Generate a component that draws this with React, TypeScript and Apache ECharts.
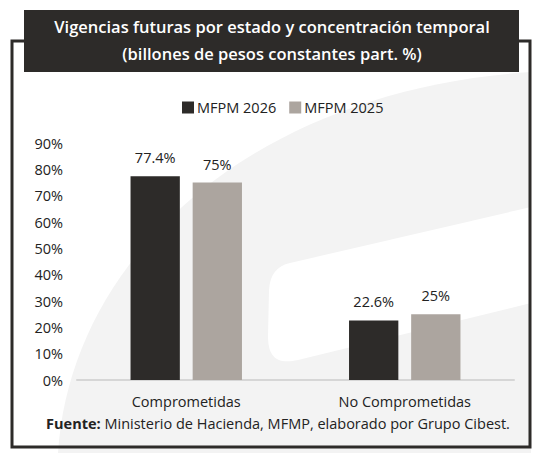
import React, { useEffect, useRef } from "react";
import * as echarts from "echarts";

const categories = ["Comprometidas", "No Comprometidas"];
const seriesNames = ["MFPM 2026", "MFPM 2025"];
const mfpm2026 = [77.4, 22.6];
const mfpm2025 = [75, 25];
const yTicks = { min: 0, max: 90, interval: 10 };

const DARK = "#2d2b29";
const TAUPE = "#aca59f";
const FONT = "'Open Sans', 'Noto Sans', sans-serif";

// Decorative background swoosh (large arc and a light diagonal stripe)
const ARC_PATH = "M 58 453 C 70 260 250 90 531 72 L 531 453 Z";
const STRIPE_PATH =
  "M 290 263 L 531 207 L 531 303 L 298 360 C 276 365 268 356 268 336 L 269 290 C 270 274 277 266 290 263 Z";

let shapesRegistered = false;
function registerShapes() {
  if (shapesRegistered) return;
  echarts.graphic.registerShape("bgArc", echarts.graphic.extendPath(ARC_PATH, {}));
  echarts.graphic.registerShape("bgStripe", echarts.graphic.extendPath(STRIPE_PATH, {}));
  shapesRegistered = true;
}

export default function App() {
  const ref = useRef<HTMLDivElement>(null);

  useEffect(() => {
    document.body.style.margin = "0";
    registerShapes();
    const chart = echarts.init(ref.current!, null, { renderer: "svg" });
    const labelStyle = {
      show: true,
      position: "top",
      distance: 11,
      formatter: "{c}%",
      fontSize: 14.5,
      color: "#222222",
      fontFamily: FONT,
    };
    chart.setOption({
      animation: false,
      backgroundColor: "#ffffff",
      textStyle: { fontFamily: FONT },
      graphic: [
        { type: "bgArc", x: 0, y: 0, z: -10, silent: true, style: { fill: "#f3f3f3" } },
        { type: "bgStripe", x: 0, y: 0, z: -9, silent: true, style: { fill: "#ffffff" } },
        {
          type: "rect",
          z: -5,
          shape: { x: 12, y: 41, width: 518, height: 406 },
          style: { fill: "none", stroke: DARK, lineWidth: 3 },
        },
        {
          type: "rect",
          z: 5,
          shape: { x: 24, y: 10, width: 495, height: 62 },
          style: { fill: DARK },
        },
        {
          type: "text",
          z: 6,
          x: 272,
          y: 26,
          style: {
            text: "Vigencias futuras por estado y concentración temporal",
            fill: "#ffffff",
            font: `600 16.5px ${FONT}`,
            align: "center",
            verticalAlign: "middle",
          },
        },
        {
          type: "text",
          z: 6,
          x: 272,
          y: 53,
          style: {
            text: "(billones de pesos constantes part. %)",
            fill: "#ffffff",
            font: `600 16.5px ${FONT}`,
            align: "center",
            verticalAlign: "middle",
          },
        },
        {
          type: "text",
          z: 6,
          x: 278,
          y: 423,
          style: {
            text: "{b|Fuente:} Ministerio de Hacienda, MFMP, elaborado por Grupo Cibest.",
            align: "center",
            verticalAlign: "middle",
            fill: "#222222",
            font: `14.5px ${FONT}`,
            rich: {
              b: { fontWeight: 700, fontSize: 14.5, fontFamily: FONT, fill: "#222222" },
            },
          },
        },
      ],
      legend: {
        top: 95,
        left: 177,
        icon: "rect",
        itemWidth: 12,
        itemHeight: 12,
        itemGap: 13,
        data: seriesNames,
        textStyle: { fontSize: 14.5, color: "#222222", fontFamily: FONT, padding: [0, 0, 0, -2] },
      },
      grid: { left: 77, right: 26, top: 143, bottom: 73, containLabel: false },
      xAxis: {
        type: "category",
        data: categories,
        axisLine: { lineStyle: { color: "#d6d6d6", width: 2 } },
        axisTick: { show: false },
        axisLabel: { fontSize: 14.5, color: "#222222", margin: 14, fontFamily: FONT },
      },
      yAxis: {
        type: "value",
        min: yTicks.min,
        max: yTicks.max,
        interval: yTicks.interval,
        splitLine: { show: false },
        axisLine: { show: false },
        axisTick: { show: false },
        axisLabel: {
          formatter: "{value}%",
          fontSize: 14.5,
          color: "#222222",
          margin: 14,
          fontFamily: FONT,
        },
      },
      series: [
        {
          name: seriesNames[0],
          type: "bar",
          data: mfpm2026,
          barGap: "26%",
          barCategoryGap: "49%",
          itemStyle: { color: DARK },
          label: labelStyle,
        },
        {
          name: seriesNames[1],
          type: "bar",
          data: mfpm2025,
          itemStyle: { color: TAUPE },
          label: labelStyle,
        },
      ],
    });
    return () => chart.dispose();
  }, []);

  return <div ref={ref} style={{ width: 540, height: 453 }} />;
}
